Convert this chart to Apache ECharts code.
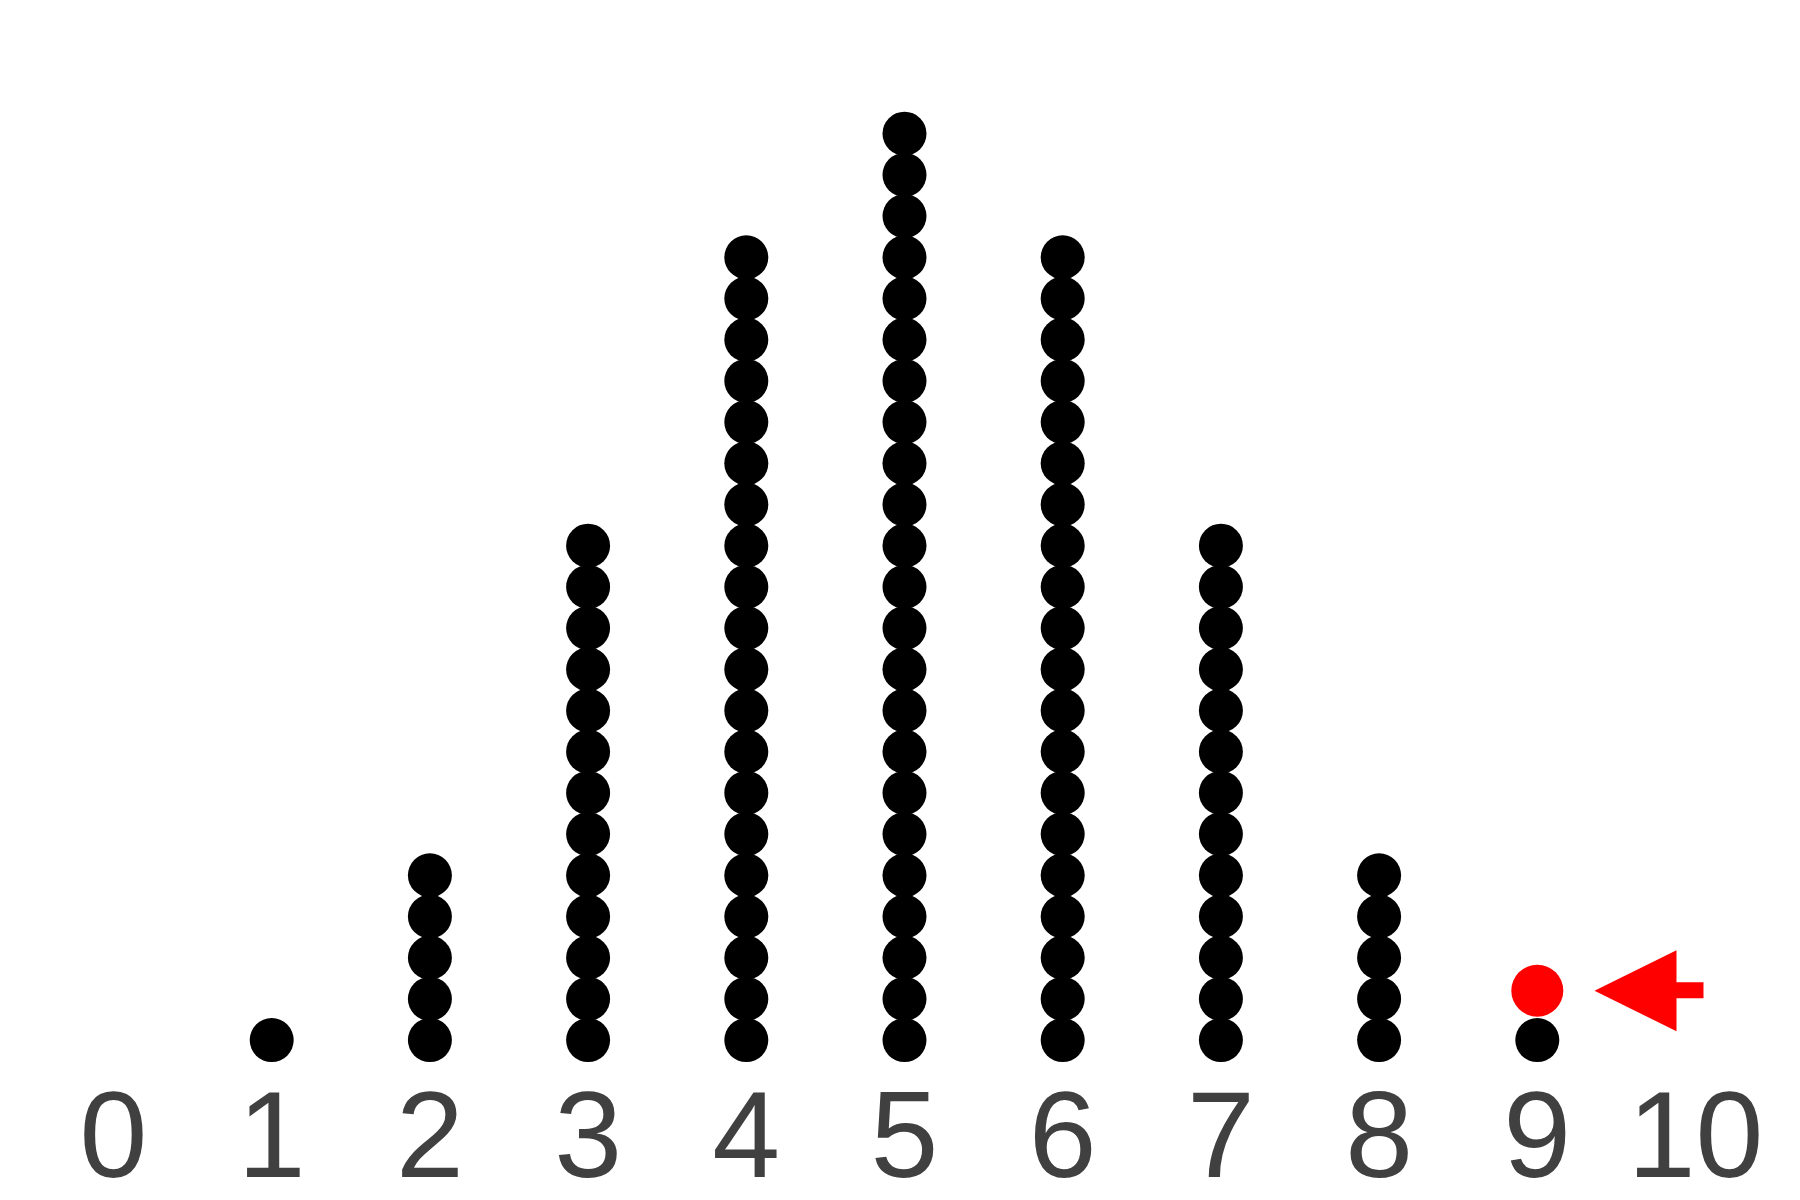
<!DOCTYPE html>
<html>
<head>
<meta charset="utf-8">
<script src="https://cdn.jsdelivr.net/npm/echarts@6/dist/echarts.min.js"></script>
<style>html,body{margin:0;padding:0;background:#fff}#c{width:1800px;height:1200px}</style>
</head>
<body>
<div id="c"></div>
<script>
var categories = [0,1,2,3,4,5,6,7,8,9,10];
var counts = [0,1,5,13,20,23,20,13,5,1,0];
var highlightPoint = [9, 2.2];
var arrowPoint = [9.706, 2.2];
var tickLabels = ['0','1','2','3','4','5','6','7','8','9','10'];

var dots = [];
categories.forEach(function(x, i){
  for (var k = 1; k <= counts[i]; k++) dots.push([x, k]);
});

var chart = echarts.init(document.getElementById('c'));
chart.setOption({
  animation: false,
  backgroundColor: '#ffffff',
  grid: {left: 113.5, right: 104.5, bottom: 118.7, top: 51.3, containLabel: false, outerBoundsMode: 'none'},
  xAxis: {
    type: 'value', min: 0, max: 10, interval: 1,
    axisLine: {show: false}, axisTick: {show: false}, splitLine: {show: false},
    axisLabel: {
      show: true, showMinLabel: true, showMaxLabel: true,
      fontSize: 122, color: '#404040', fontFamily: 'Liberation Sans',
      verticalAlign: 'middle', margin: 62,
      formatter: function(v){ return tickLabels[Math.round(v)]; }
    }
  },
  yAxis: {
    type: 'value', min: 0, max: 25, show: false,
    splitLine: {show: false}
  },
  series: [
    {type: 'scatter', data: dots, symbolSize: 44, itemStyle: {color: '#000000', opacity: 1}, silent: true},
    {type: 'scatter', data: [highlightPoint], symbolSize: 52, itemStyle: {color: '#ff0000', opacity: 1}, silent: true},
    {type: 'scatter', data: [arrowPoint], symbol: 'path://M0 40.5 L82 0 L82 32 L109 32 L109 48 L82 48 L82 81 Z',
     symbolSize: [109, 81], itemStyle: {color: '#ff0000', opacity: 1}, silent: true}
  ]
});
</script>
</body>
</html>
